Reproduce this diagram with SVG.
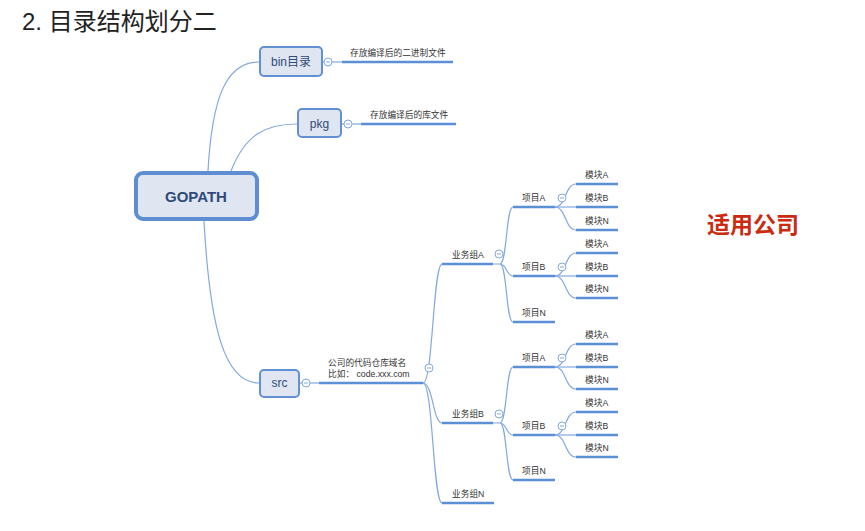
<svg xmlns="http://www.w3.org/2000/svg" width="865" height="531" viewBox="0 0 865 531">
<style>
.lbl{font-family:"Liberation Sans","Noto Sans CJK SC",sans-serif;font-size:8.7px;fill:#333}
.ul{stroke:#5b8fd6;stroke-width:2.5;fill:none}
.cn{stroke:#82a9e0;stroke-width:1.2;fill:none}
.box{fill:#dfe6f2;stroke:#6190d4;stroke-width:2}
.bt{font-family:"Liberation Sans","Noto Sans CJK SC",sans-serif;font-size:12px;fill:#2f4a78;text-anchor:middle}
.btn{fill:#fff;stroke:#82a9e0;stroke-width:1}
.mn{stroke:#82a9e0;stroke-width:1}
</style>
<defs>
<g id="b"><circle class="btn" r="4"/><line class="mn" x1="-2" y1="0" x2="2" y2="0"/></g>
</defs>
<rect width="865" height="531" fill="#fff"/>
<text x="22" y="30" font-family="Liberation Sans,Noto Sans CJK SC,sans-serif" font-size="24" fill="#222">2. 目录结构划分二</text>

<g id="connectors">
<path class="cn" d="M208,171 C212,100 225,62 259,62"/>
<path class="cn" d="M231,171 C245,135 265,124 297,124"/>
<path class="cn" d="M204,221 C210,330 225,383 259,383"/>
<path class="cn" d="M322,62 L342,62"/>
<path class="cn" d="M341,124 L361,124"/>
<path class="cn" d="M299,383 L319,383"/>
<path class="cn" d="M423,383 C433,383 433,264 442,264"/>
<path class="cn" d="M423,383 C433,383 433,423 442,423"/>
<path class="cn" d="M423,383 C433,383 433,503 442,503"/>
<path class="cn" d="M493,264 L500,264 C507,264 506,207 513,207"/>
<path class="cn" d="M500,264 C507,264 506,276 513,276"/>
<path class="cn" d="M500,264 C507,264 506,322 513,322"/>
<path class="cn" d="M493,423 L500,423 C507,423 506,367 513,367"/>
<path class="cn" d="M500,423 C507,423 506,435 513,435"/>
<path class="cn" d="M500,423 C507,423 506,480 513,480"/>
<path class="cn" d="M555,207 L576,207"/>
<path class="cn" d="M555,207 C566,207 565,184 576,184"/>
<path class="cn" d="M555,207 C566,207 565,230 576,230"/>
<path class="cn" d="M555,276 L576,276"/>
<path class="cn" d="M555,276 C566,276 565,253 576,253"/>
<path class="cn" d="M555,276 C566,276 565,298 576,298"/>
<path class="cn" d="M555,367 L576,367"/>
<path class="cn" d="M555,367 C566,367 565,344 576,344"/>
<path class="cn" d="M555,367 C566,367 565,389 576,389"/>
<path class="cn" d="M555,435 L576,435"/>
<path class="cn" d="M555,435 C566,435 565,412 576,412"/>
<path class="cn" d="M555,435 C566,435 565,457 576,457"/>
</g>

<g id="gopath">
<rect x="136" y="173" width="121" height="46" rx="7" fill="#dfe6f2" stroke="#5e8dd2" stroke-width="4"/>
<text x="196" y="202" font-family="Liberation Sans,sans-serif" font-size="15" font-weight="bold" fill="#2f4a78" text-anchor="middle">GOPATH</text>
</g>

<g id="bin">
<rect class="box" x="260" y="47" width="62" height="29" rx="4"/>
<text class="bt" x="291" y="66">bin目录</text>
<use href="#b" x="328" y="62"/>
</g>
<g id="bin-desc">
<text class="lbl" x="350" y="56">存放编译后的二进制文件</text>
<line class="ul" x1="342" y1="62" x2="453" y2="62"/>
</g>

<g id="pkg">
<rect class="box" x="298" y="109" width="43" height="28" rx="4"/>
<text class="bt" x="319.5" y="128">pkg</text>
<use href="#b" x="348" y="124"/>
</g>
<g id="pkg-desc">
<text class="lbl" x="370" y="118">存放编译后的库文件</text>
<line class="ul" x1="361" y1="124" x2="456" y2="124"/>
</g>

<g id="src">
<rect class="box" x="260" y="370" width="39" height="27" rx="4"/>
<text class="bt" x="279.5" y="387">src</text>
<use href="#b" x="306" y="383"/>
</g>

<g id="domain">
<text class="lbl" x="328" y="366">公司的代码仓库域名</text>
<text class="lbl" x="328" y="377">比如：  code.xxx.com</text>
<line class="ul" x1="319" y1="383" x2="423" y2="383"/>
<use href="#b" x="429" y="368"/>
</g>

<g id="groupA">
<text class="lbl" x="452" y="258">业务组A</text>
<line class="ul" x1="442" y1="264" x2="493" y2="264"/>
<use href="#b" x="499" y="254"/>
</g>
<g id="groupA-projA">
<text class="lbl" x="522" y="201">项目A</text>
<line class="ul" x1="513" y1="207" x2="555" y2="207"/>
<use href="#b" x="562" y="198"/>
</g>
<g id="groupA-projA-modA"><text class="lbl" x="585" y="178">模块A</text><line class="ul" x1="576" y1="184" x2="618" y2="184"/></g>
<g id="groupA-projA-modB"><text class="lbl" x="585" y="201">模块B</text><line class="ul" x1="576" y1="207" x2="618" y2="207"/></g>
<g id="groupA-projA-modN"><text class="lbl" x="585" y="224">模块N</text><line class="ul" x1="576" y1="230" x2="618" y2="230"/></g>
<g id="groupA-projB">
<text class="lbl" x="522" y="270">项目B</text>
<line class="ul" x1="513" y1="276" x2="555" y2="276"/>
<use href="#b" x="562" y="267"/>
</g>
<g id="groupA-projB-modA"><text class="lbl" x="585" y="247">模块A</text><line class="ul" x1="576" y1="253" x2="618" y2="253"/></g>
<g id="groupA-projB-modB"><text class="lbl" x="585" y="270">模块B</text><line class="ul" x1="576" y1="276" x2="618" y2="276"/></g>
<g id="groupA-projB-modN"><text class="lbl" x="585" y="292">模块N</text><line class="ul" x1="576" y1="298" x2="618" y2="298"/></g>
<g id="groupA-projN"><text class="lbl" x="522" y="316">项目N</text><line class="ul" x1="513" y1="322" x2="555" y2="322"/></g>

<g id="groupB">
<text class="lbl" x="452" y="417">业务组B</text>
<line class="ul" x1="442" y1="423" x2="493" y2="423"/>
<use href="#b" x="499" y="414"/>
</g>
<g id="groupB-projA">
<text class="lbl" x="522" y="361">项目A</text>
<line class="ul" x1="513" y1="367" x2="555" y2="367"/>
<use href="#b" x="562" y="358"/>
</g>
<g id="groupB-projA-modA"><text class="lbl" x="585" y="338">模块A</text><line class="ul" x1="576" y1="344" x2="618" y2="344"/></g>
<g id="groupB-projA-modB"><text class="lbl" x="585" y="361">模块B</text><line class="ul" x1="576" y1="367" x2="618" y2="367"/></g>
<g id="groupB-projA-modN"><text class="lbl" x="585" y="383">模块N</text><line class="ul" x1="576" y1="389" x2="618" y2="389"/></g>
<g id="groupB-projB">
<text class="lbl" x="522" y="429">项目B</text>
<line class="ul" x1="513" y1="435" x2="555" y2="435"/>
<use href="#b" x="562" y="426"/>
</g>
<g id="groupB-projB-modA"><text class="lbl" x="585" y="406">模块A</text><line class="ul" x1="576" y1="412" x2="618" y2="412"/></g>
<g id="groupB-projB-modB"><text class="lbl" x="585" y="429">模块B</text><line class="ul" x1="576" y1="435" x2="618" y2="435"/></g>
<g id="groupB-projB-modN"><text class="lbl" x="585" y="451">模块N</text><line class="ul" x1="576" y1="457" x2="618" y2="457"/></g>
<g id="groupB-projN"><text class="lbl" x="522" y="474">项目N</text><line class="ul" x1="513" y1="480" x2="555" y2="480"/></g>

<g id="groupN">
<text class="lbl" x="452" y="497">业务组N</text>
<line class="ul" x1="442" y1="503" x2="494" y2="503"/>
</g>

<text x="707" y="233" font-family="Noto Sans CJK SC,sans-serif" font-size="23" font-weight="bold" fill="#cc2a10">适用公司</text>
</svg>
